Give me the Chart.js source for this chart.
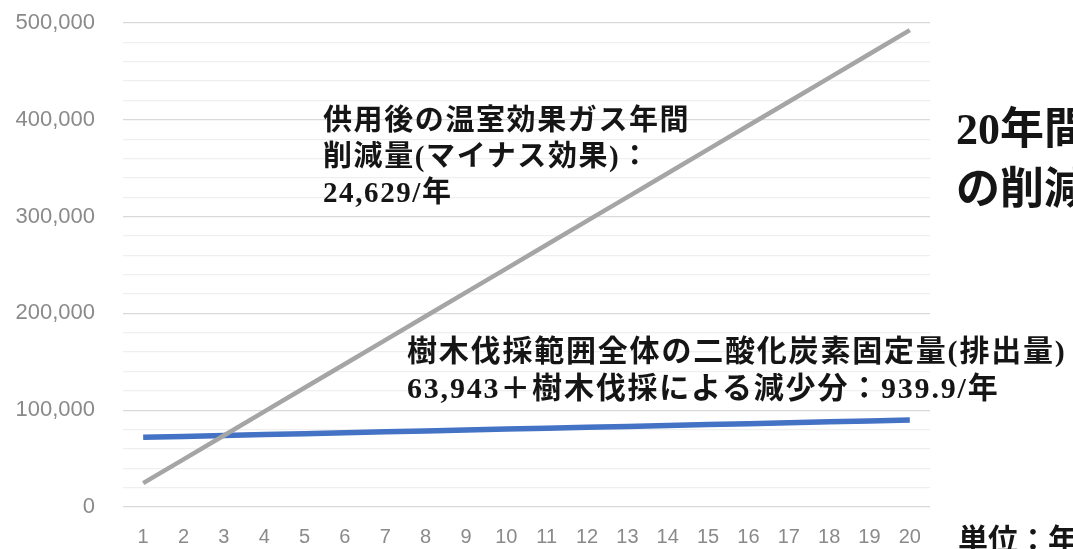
<!DOCTYPE html>
<html><head><meta charset="utf-8">
<script src="https://cdn.jsdelivr.net/npm/chart.js@4/dist/chart.umd.min.js"></script>
<style>
html,body{margin:0;padding:0;background:#fff;overflow:hidden;width:1073px;height:549px;}
#wrap{position:absolute;left:0;top:0;width:1073px;height:549px;}
.t{position:absolute;white-space:nowrap;color:#151515;font-weight:700;
  font-family:"Liberation Serif","Noto Sans CJK JP",serif;}
</style></head><body>
<div id="wrap"><canvas id="c" width="1073" height="549"></canvas></div>
<div class="t" style="left:323px;top:102px;font-size:29px;line-height:36px;letter-spacing:1.6px;">供用後の温室効果ガス年間<br>削減量(マイナス効果)：<br>24,629/年</div>
<div class="t" style="left:407px;top:332px;font-size:30px;line-height:37px;letter-spacing:1.8px;">樹木伐採範囲全体の二酸化炭素固定量(排出量)<br>63,943＋樹木伐採による減少分：939.9/年</div>
<div class="t" style="left:956px;top:100px;font-size:44px;line-height:60px;">20年間<br>の削減量</div>
<div class="t" style="left:958px;top:522px;font-size:30px;line-height:36px;">単位：年</div>
<script>
const years = ["1","2","3","4","5","6","7","8","9","10","11","12","13","14","15","16","17","18","19","20"];
const ghgReduction = [24629,49258,73887,98516,123145,147774,172403,197032,221661,246290,270919,295548,320177,344806,369435,394064,418693,443322,467951,492580];
const co2Fixed = [72000,72940,73880,74820,75760,76700,77640,78580,79520,80460,81400,82340,83280,84220,85160,86100,87040,87980,88920,89860];
const yMin = 0, yMax = 500000, yMinorStep = 20000, yMajorStep = 100000;

new Chart(document.getElementById('c'), {
  type: 'line',
  data: {
    labels: years,
    datasets: [
      {data: ghgReduction, borderColor: '#A5A5A5', borderWidth: 4.5, pointRadius: 0, tension: 0, fill: false},
      {data: co2Fixed, borderColor: '#4472C4', borderWidth: 5.5, pointRadius: 0, tension: 0, fill: false}
    ]
  },
  options: {
    responsive: false, animation: false,
    layout: {padding: {left: 12, right: 143, top: 23, bottom: 0}},
    plugins: {legend: {display: false}, tooltip: {enabled: false}},
    scales: {
      x: {
        offset: true,
        afterFit: s => { s.height = 42; s.paddingLeft = 0; s.paddingRight = 0; },
        grid: {display: false, drawTicks: false},
        border: {display: false},
        ticks: {color: '#8a8a8a', padding: 18, font: {family: 'Liberation Sans', size: 20}, maxRotation: 0, autoSkip: false}
      },
      y: {
        min: yMin, max: yMax,
        afterFit: s => { s.width = 111; s.paddingTop = 0; s.paddingBottom = 0; },
        border: {display: false},
        grid: {
          drawTicks: false,
          color: ctx => (ctx.tick && ctx.tick.value % yMajorStep === 0) ? '#d9d9d9' : '#efefef',
          lineWidth: 1.3
        },
        ticks: {
          stepSize: yMinorStep, autoSkip: false, padding: 28, color: '#8a8a8a',
          font: {family: 'Liberation Sans', size: 22},
          callback: v => (v % yMajorStep === 0) ? v.toLocaleString('en-US') : ''
        }
      }
    }
  }
});
</script>
</body></html>
